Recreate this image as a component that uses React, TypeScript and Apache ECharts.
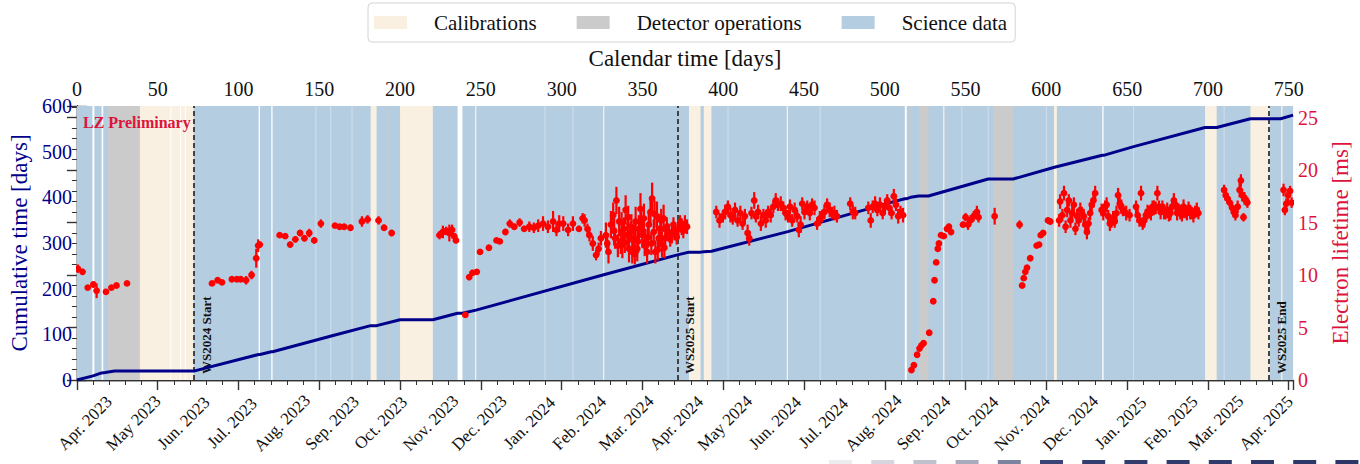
import React, { useEffect, useRef } from "react";
import * as echarts from "echarts";

const FONT = "'Liberation Serif', 'Times New Roman', serif";
const NAVY = "#00008b";
const CRIMSON = "#dc143c";
const SCI = "#b5cde1";
const CAL = "#f9f0e1";
const OPS = "#cbcbcb";
const DAY_MAX = 752.7;

// Month ticks on the bottom axis (days since start of calendar)
const monthDays = [5, 35, 66, 96, 127, 158, 188, 219, 249, 280, 311, 340, 371, 401, 432, 462, 493, 524, 554, 585, 615, 646, 677, 705, 736];
const monthLabels = ["Apr. 2023", "May 2023", "Jun. 2023", "Jul. 2023", "Aug. 2023", "Sep. 2023", "Oct. 2023", "Nov. 2023", "Dec. 2023", "Jan. 2024", "Feb. 2024", "Mar. 2024", "Apr. 2024", "May 2024", "Jun. 2024", "Jul. 2024", "Aug. 2024", "Sep. 2024", "Oct. 2024", "Nov. 2024", "Dec. 2024", "Jan. 2025", "Feb. 2025", "Mar. 2025", "Apr. 2025"];

// Background periods [start day, end day]
const scienceBands = [[0, DAY_MAX]];
const calibrationBands = [[38.8, 72.3], [181.8, 185.5], [200, 220.3], [246.4, 247.2], [325.6, 326.4], [378.8, 386], [388, 392.7], [439.3, 440.1], [536.1, 536.9], [604.7, 606.5], [698.2, 705.4], [726.3, 738.3], [745.3, 746.1]];
const operationsBands = [[19.4, 38.8], [192.8, 193.4], [515.8, 516.4], [521, 527], [567, 579.4]];
const gapLines = [[9.6, 10.8], [15.3, 16.3], [57.8, 58.4], [63.8, 64.4], [66.8, 67.4], [112.5, 113.3], [120.3, 121.1], [235.6, 238.6], [512.4, 513.6], [634.6, 635.4]];
const faintLines = [[147.6, 148.2], [156.8, 157.4], [170, 170.6], [289.4, 290], [306.7, 307.3], [402.7, 403.3], [459.7, 460.3], [547.4, 548], [563.7, 564.3], [599.7, 600.3], [653.7, 654.3], [709.7, 710.3]];

// Cumulative science time [days]
const cumulativeDays = [0, 10, 15.3, 17.5, 23.4, 72.3, 112.5, 113.3, 120.3, 121.1, 158, 181.8, 185.5, 200, 220.3, 235.6, 238.6, 247, 325.5, 371.7, 378.8, 386, 388, 392.7, 440, 505, 512.4, 513.6, 516, 521, 527, 564, 567, 579.4, 605, 634.6, 635.4, 654, 698.2, 705.4, 726.3, 739.5, 745, 752.7];
const cumulativeValues = [0, 9, 15.5, 16.5, 19.5, 19.5, 56, 56, 62, 62, 97, 119, 119, 132, 132, 146, 146, 153, 230, 274, 280, 280, 281, 282, 325, 390, 397, 397, 400, 403, 403, 440, 440, 440, 466, 492, 492, 511, 553, 553, 572, 572, 572, 580];

// Electron lifetime [day, ms, error]
const lifetimePre = [[0.6, 10.6, 0.4], [3.5, 10.3, 0.3], [6.7, 8.8, 0.2], [10.2, 9.1, 0.3], [12.2, 8.5, 0.7], [18.0, 8.4, 0.2], [21.4, 8.8, 0.2], [24.5, 9.0, 0.2], [31.0, 9.2, 0.2]];
const lifetimeSummer2023 = [[83.6, 9.2, 0.2], [87.1, 9.5, 0.2], [89.8, 9.3, 0.2], [95.9, 9.6, 0.2], [99.0, 9.6, 0.2], [101.4, 9.6, 0.2], [104.7, 9.5, 0.4], [108.1, 10.0, 0.4], [111.0, 11.6, 0.9], [112.2, 12.8, 0.6], [113.2, 12.9, 0.3], [125.5, 13.8, 0.2], [128.9, 13.7, 0.2], [132.0, 12.9, 0.3], [135.2, 13.4, 0.3], [138.1, 14.0, 0.3], [140.8, 13.5, 0.3], [143.8, 14.0, 0.4], [146.9, 13.3, 0.3], [151.0, 14.9, 0.4], [159.7, 14.7, 0.2], [162.6, 14.6, 0.2], [165.4, 14.6, 0.2], [169.3, 14.5, 0.3], [176.4, 15.1, 0.5], [179.9, 15.3, 0.4], [186.7, 15.2, 0.4], [190.1, 14.5, 0.3], [194.8, 14.0, 0.3]];
const lifetimeWinter2023 = [[224.4, 13.8, 0.4], [226.5, 14.1, 0.6], [228.5, 14.2, 0.4], [230.5, 14.0, 0.8], [232.2, 14.3, 0.5], [233.5, 13.7, 0.3], [234.6, 13.3, 0.3], [240.4, 6.2, 0.2], [242.8, 9.8, 0.3], [244.8, 10.2, 0.3], [247.5, 10.3, 0.2], [249.5, 12.2, 0.2], [255.0, 12.6, 0.2], [259.7, 13.3, 0.2], [261.7, 13.2, 0.2], [265.2, 14.1, 0.3], [267.9, 14.9, 0.4], [270.7, 14.6, 0.3], [274.0, 15.0, 0.4], [276.8, 14.4, 0.3], [280.0, 14.6, 0.5], [282.8, 14.5, 0.5], [285.5, 14.7, 0.6], [288.5, 14.9, 0.7], [291.5, 14.6, 0.6], [294.7, 15.1, 1.0], [296.8, 14.3, 0.6], [298.5, 14.9, 0.8], [301.0, 14.9, 0.7], [304.0, 14.3, 0.6], [307.0, 14.9, 0.7], [310.7, 14.4, 0.3], [313.0, 15.4, 0.5], [314.2, 15.2, 0.6], [316.0, 14.4, 0.5], [317.2, 13.8, 0.6], [319.3, 13.0, 0.7], [321.3, 11.9, 0.5], [322.9, 12.5, 0.6], [324.3, 13.5, 0.7]];
const lifetimeSpring2024 = [[327.4, 13.8, 1.2], [328.2, 13.0, 1.0], [329.0, 12.2, 1.1], [330.5, 14.8, 1.3], [331.9, 15.7, 1.2], [332.5, 14.2, 1.4], [333.1, 13.5, 1.0], [333.9, 17.1, 1.3], [334.8, 12.8, 1.1], [335.6, 15.1, 1.4], [336.6, 13.2, 1.2], [337.1, 15.0, 1.0], [337.6, 12.9, 1.3], [338.6, 14.4, 1.1], [339.1, 13.1, 1.0], [339.6, 16.2, 1.4], [340.7, 13.8, 1.2], [341.2, 15.5, 1.1], [341.7, 12.5, 1.3], [342.7, 14.1, 1.0], [343.2, 14.6, 1.2], [343.7, 12.2, 1.1], [344.8, 13.5, 1.3], [345.3, 12.0, 1.0], [345.8, 15.1, 1.4], [346.8, 12.5, 1.2], [347.3, 13.2, 1.1], [347.8, 14.4, 1.3], [348.8, 16.3, 1.5], [349.3, 15.0, 1.1], [349.9, 13.8, 1.2], [350.9, 15.4, 1.4], [351.4, 12.8, 1.0], [351.9, 13.2, 1.2], [352.9, 12.2, 1.1], [353.4, 13.6, 1.0], [353.9, 14.8, 1.3], [355.0, 16.0, 1.4], [355.5, 13.0, 1.1], [356.0, 17.3, 1.5], [357.0, 14.1, 1.2], [357.5, 15.8, 1.3], [358.0, 12.2, 1.1], [359.0, 15.6, 1.4], [359.5, 12.4, 1.0], [360.1, 13.5, 1.2], [361.1, 14.4, 1.3], [361.6, 15.2, 1.1], [362.1, 12.9, 1.2], [363.1, 15.4, 1.3], [363.6, 12.6, 1.0], [364.1, 13.5, 1.1], [365.1, 14.6, 0.9], [366.2, 14.1, 0.8], [367.2, 13.4, 0.7], [368.2, 13.8, 0.8], [369.2, 14.8, 0.7], [370.2, 14.1, 0.8], [371.2, 13.6, 0.7], [372.3, 14.4, 0.8], [373.3, 15.0, 0.7], [374.3, 14.6, 0.8], [375.3, 14.2, 0.7], [376.3, 14.9, 0.8], [377.6, 14.6, 0.7]];
const lifetimeSummer2024 = [[395.7, 16.0, 0.6], [397.7, 15.2, 0.7], [399.8, 15.6, 0.6], [401.2, 16.0, 0.7], [402.9, 16.5, 0.6], [404.5, 15.7, 0.7], [405.9, 15.4, 0.6], [407.3, 16.2, 0.7], [408.9, 15.2, 0.6], [410.6, 15.9, 0.7], [412.0, 14.9, 0.6], [413.4, 15.6, 0.7], [415.1, 14.0, 0.8], [416.1, 13.5, 0.7], [417.5, 15.9, 0.6], [419.2, 17.1, 0.8], [420.2, 15.6, 0.6], [421.6, 16.0, 0.7], [423.3, 14.9, 0.7], [424.9, 15.7, 0.6], [426.3, 15.2, 0.7], [427.8, 16.0, 0.6], [429.4, 15.7, 0.7], [431.0, 16.5, 0.6], [432.5, 17.1, 0.7], [433.9, 16.7, 0.6], [435.6, 16.8, 0.7], [437.2, 16.4, 0.6], [438.6, 15.9, 0.7], [440.1, 15.6, 0.6], [441.3, 16.5, 0.7], [442.7, 15.2, 0.6], [444.2, 16.2, 0.7], [445.8, 15.6, 0.6], [446.8, 14.3, 0.7], [447.9, 14.8, 0.8], [448.9, 16.8, 0.6], [450.3, 16.0, 0.7], [452.0, 16.5, 0.6], [453.6, 15.9, 0.7], [455.0, 16.7, 0.6], [456.5, 16.4, 0.7], [458.1, 14.9, 0.6], [459.8, 15.4, 0.7], [461.2, 15.6, 0.6], [462.6, 16.0, 0.7], [464.3, 16.7, 0.6], [465.9, 16.2, 0.7], [467.3, 15.9, 0.6], [468.8, 15.9, 0.7], [470.4, 15.6, 0.6], [478.6, 16.8, 0.6], [480.2, 16.0, 0.7], [481.7, 15.9, 0.6], [489.8, 16.4, 0.6], [491.3, 15.2, 0.7], [492.5, 16.5, 0.6], [494.0, 16.8, 0.7], [495.4, 16.2, 0.6], [497.0, 16.7, 0.7], [498.7, 15.9, 0.6], [500.1, 16.5, 0.7], [501.5, 17.1, 0.6], [502.8, 16.4, 0.7], [504.2, 15.9, 0.6], [505.6, 17.5, 0.7], [506.9, 16.7, 0.6], [508.3, 15.6, 0.7], [509.7, 16.0, 0.6], [511.3, 15.7, 0.7]];
const lifetimeAutumn2024 = [[516.5, 0.95, 0.1], [518.0, 1.4, 0.1], [520.0, 2.4, 0.1], [521.5, 3.0, 0.1], [522.7, 3.3, 0.1], [524.0, 3.5, 0.1], [527.5, 4.5, 0.1], [530.0, 7.5, 0.1], [530.8, 9.5, 0.1], [531.8, 11.2, 0.15], [532.8, 12.5, 0.2], [533.5, 13.0, 0.2], [534.8, 13.8, 0.2], [536.5, 13.7, 0.2], [538.5, 14.4, 0.3], [539.7, 14.6, 0.3], [541.0, 14.1, 0.3], [548.4, 14.8, 0.3], [550.0, 15.5, 0.4], [551.5, 14.8, 0.5], [553.0, 15.2, 0.5], [555.0, 15.6, 0.5], [557.0, 16.0, 0.6], [558.0, 15.5, 0.5], [568.0, 15.6, 0.8], [583.4, 14.8, 0.4], [585.0, 9.0, 0.1], [586.0, 9.7, 0.1], [587.0, 10.3, 0.1], [588.0, 10.7, 0.1], [590.0, 11.6, 0.1], [594.0, 12.8, 0.2], [595.5, 12.9, 0.2], [596.5, 13.8, 0.2], [598.0, 14.0, 0.2], [601.0, 15.2, 0.3], [602.4, 15.1, 0.3]];
const lifetimeWinter2024 = [[607.9, 15.2, 0.6], [608.5, 17.0, 0.7], [609.9, 15.7, 0.6], [610.9, 17.8, 0.7], [611.9, 14.6, 0.6], [612.9, 16.2, 0.7], [613.9, 17.1, 0.6], [614.9, 15.2, 0.7], [616.0, 15.9, 0.6], [617.0, 16.7, 0.7], [618.0, 14.4, 0.6], [619.0, 15.6, 0.7], [620.0, 15.2, 0.6], [621.0, 16.2, 0.7], [622.0, 15.9, 0.6], [623.1, 15.6, 0.7], [624.1, 14.8, 0.6], [625.1, 14.1, 0.7], [626.1, 14.9, 0.6], [627.1, 15.9, 0.7], [628.1, 16.7, 0.6], [629.1, 17.1, 0.7], [630.2, 17.8, 0.7], [634.2, 16.2, 0.6], [635.2, 15.9, 0.7], [636.3, 16.5, 0.6], [637.3, 16.7, 0.7], [638.3, 15.6, 0.6], [639.3, 14.9, 0.7], [640.3, 15.1, 0.6], [641.3, 15.4, 0.7], [642.3, 15.1, 0.6], [643.4, 15.9, 0.7], [644.4, 17.6, 0.7], [645.4, 16.8, 0.6], [646.4, 16.5, 0.7], [647.4, 16.2, 0.6], [649.4, 15.9, 0.7], [651.5, 15.7, 0.6], [655.5, 16.5, 0.6], [656.5, 15.7, 0.7], [657.6, 15.2, 0.6], [658.6, 17.8, 0.7], [659.6, 14.9, 0.6], [660.6, 15.2, 0.7], [661.6, 15.7, 0.6], [662.6, 16.0, 0.7], [663.6, 16.0, 0.6], [664.7, 15.9, 0.7], [665.7, 16.5, 0.6], [666.7, 16.4, 0.7], [667.7, 16.4, 0.6], [668.7, 17.8, 0.7], [669.7, 16.5, 0.6], [670.7, 16.0, 0.7], [671.8, 16.5, 0.6], [672.8, 16.0, 0.7], [673.8, 15.9, 0.6], [674.8, 16.2, 0.7], [675.8, 15.7, 0.6], [676.8, 15.9, 0.7], [677.8, 16.5, 0.6], [678.9, 17.1, 0.7], [679.9, 16.7, 0.6], [680.9, 15.9, 0.7], [681.9, 16.2, 0.6], [682.9, 16.0, 0.7], [683.9, 15.7, 0.6], [684.9, 16.5, 0.7], [686.0, 16.0, 0.6], [687.0, 15.9, 0.7], [688.0, 16.4, 0.6], [689.0, 16.0, 0.7], [690.0, 15.9, 0.6], [691.0, 15.7, 0.7], [692.0, 16.0, 0.6], [693.1, 16.2, 0.7], [694.1, 15.9, 0.6]];
const lifetimeSpring2025 = [[710.0, 18.1, 0.5], [711.0, 17.6, 0.5], [712.0, 17.3, 0.5], [713.5, 16.9, 0.5], [715.0, 16.4, 0.5], [716.0, 16.0, 0.5], [717.0, 15.7, 0.5], [718.4, 16.5, 0.6], [719.6, 18.1, 0.7], [720.4, 19.0, 0.6], [721.2, 17.6, 0.6], [722.0, 15.5, 0.4], [722.6, 17.3, 0.6], [723.6, 17.1, 0.5], [724.4, 16.9, 0.5], [746.8, 18.1, 0.6], [747.6, 16.2, 0.5], [748.5, 16.8, 0.5], [749.6, 17.6, 0.6], [750.8, 18.0, 0.5], [751.8, 16.9, 0.5]];

// Run boundaries
const runMarkers = [
  { day: 72.3, label: "WS2024 Start" },
  { day: 371.7, label: "WS2025 Start" },
  { day: 737.6, label: "WS2025 End" },
];

// decorative strip at the bottom edge of the image
const stripColors = ["#ececef", "#d6d7de", "#bfc1cc", "#a8abbb", "#7d84a0", "#3b4575", "#333e6e", "#313c6c", "#303b6b", "#2f3a6a", "#2e3969", "#2d3868", "#2c3767"];

const bandRender = (color: string) => (params: any, api: any) => {
  const p0 = api.coord([api.value(0), 600]);
  const p1 = api.coord([api.value(1), 0]);
  return {
    type: "rect",
    shape: { x: p0[0], y: p0[1], width: Math.max(p1[0] - p0[0], 0.8), height: p1[1] - p0[1] },
    style: { fill: color },
  };
};

const bandSeries = (name: string, bands: number[][], color: string, z: number) => ({
  name,
  type: "custom",
  xAxisIndex: 0,
  yAxisIndex: 0,
  z,
  silent: true,
  clip: true,
  itemStyle: { color },
  dimensions: ["start", "end"],
  encode: { x: [0, 1] },
  renderItem: bandRender(color),
  data: bands,
});

const lifetimeAll = [
  ...lifetimePre, ...lifetimeSummer2023, ...lifetimeWinter2023, ...lifetimeSpring2024,
  ...lifetimeSummer2024, ...lifetimeAutumn2024, ...lifetimeWinter2024, ...lifetimeSpring2025,
];

const axisLineStyle = { color: "#333", width: 1.4 };

export default function App() {
  const ref = useRef<HTMLDivElement>(null);
  useEffect(() => {
    if (!ref.current) return;
    const chart = echarts.init(ref.current, null, { renderer: "svg" });
    const labelMap: Record<number, string> = {};
    monthDays.forEach((d, i) => (labelMap[d] = monthLabels[i]));

    const option: any = {
      animation: false,
      backgroundColor: "#fff",
      textStyle: { fontFamily: FONT },
      grid: { left: 75, right: 52.3, top: 106, bottom: 84, containLabel: false },
      legend: {
        top: 3,
        left: 368,
        data: ["Calibrations", "Detector operations", "Science data"],
        icon: "rect",
        itemWidth: 33,
        itemHeight: 13,
        itemGap: 40,
        borderColor: "#d4d4d4",
        borderWidth: 1,
        borderRadius: 4,
        padding: [9, 8, 9, 6],
        selectedMode: false,
        textStyle: { fontSize: 21, fontFamily: FONT, color: "#111", padding: [0, 0, 0, 22] },
      },
      xAxis: [
        {
          type: "value",
          position: "top",
          min: 0,
          max: DAY_MAX,
          interval: 50,
          name: "Calendar time [days]",
          nameLocation: "middle",
          nameGap: 36,
          nameTextStyle: { fontSize: 23, fontFamily: FONT, color: "#111" },
          axisLine: { show: true, lineStyle: axisLineStyle },
          axisTick: { show: true, inside: true, length: 10, lineStyle: axisLineStyle },
          minorTick: { show: true, splitNumber: 5, length: 5, lineStyle: { color: "#333", width: 1 } },
          axisLabel: { fontSize: 20, fontFamily: FONT, color: "#111", margin: 7, showMaxLabel: false },
          splitLine: { show: false },
        },
        {
          type: "value",
          position: "bottom",
          min: 0,
          max: DAY_MAX,
          axisLine: { show: true, lineStyle: axisLineStyle },
          axisTick: { show: true, inside: true, length: 9, customValues: monthDays, lineStyle: axisLineStyle },
          axisLabel: {
            customValues: monthDays,
            rotate: 45,
            align: "center",
            verticalAlign: "middle",
            margin: 43,
            fontSize: 17,
            fontFamily: FONT,
            color: "#111",
            formatter: (v: number) => labelMap[v] ?? "",
          },
          splitLine: { show: false },
        },
      ],
      yAxis: [
        {
          type: "value",
          position: "left",
          min: 0,
          max: 600,
          interval: 100,
          name: "Cumulative time [days]",
          nameLocation: "middle",
          nameRotate: 90,
          nameGap: 38,
          nameTextStyle: { fontSize: 23, fontFamily: FONT, color: NAVY },
          axisLine: { show: true, lineStyle: axisLineStyle },
          axisTick: { show: true, inside: true, length: 10, lineStyle: axisLineStyle },
          minorTick: { show: true, splitNumber: 5, length: 5, lineStyle: { color: "#333", width: 1 } },
          axisLabel: { fontSize: 20, fontFamily: FONT, color: NAVY, margin: 5 },
          splitLine: { show: false },
        },
        {
          type: "value",
          position: "right",
          min: 0,
          max: 26.1,
          interval: 5,
          name: "Electron lifetime [ms]",
          nameLocation: "middle",
          nameRotate: 90,
          nameGap: 28,
          nameTextStyle: { fontSize: 23, fontFamily: FONT, color: CRIMSON },
          axisLine: { show: true, lineStyle: axisLineStyle },
          axisTick: { show: true, inside: true, length: 10, lineStyle: axisLineStyle },
          minorTick: { show: true, splitNumber: 5, length: 5, lineStyle: { color: "#333", width: 1 } },
          axisLabel: { fontSize: 20, fontFamily: FONT, color: CRIMSON, margin: 5, showMaxLabel: false },
          splitLine: { show: false },
        },
      ],
      series: [
        bandSeries("Science data", scienceBands, SCI, 1),
        bandSeries("Calibrations", calibrationBands, CAL, 2),
        bandSeries("Detector operations", operationsBands, OPS, 2),
        bandSeries("gaps", gapLines, "#ffffff", 3),
        bandSeries("faint", faintLines, "#d2e0ec", 3),
        {
          name: "Cumulative time",
          type: "line",
          xAxisIndex: 0,
          yAxisIndex: 0,
          z: 5,
          showSymbol: false,
          silent: true,
          lineStyle: { color: NAVY, width: 3 },
          data: cumulativeDays.map((d, i) => [d, cumulativeValues[i]]),
          markLine: {
            silent: true,
            symbol: "none",
            lineStyle: { type: [5, 3], color: "#333", width: 1.8 },
            label: {
              show: true,
              position: "insideStartBottom",
              distance: 6,
              fontSize: 13,
              fontWeight: "bold",
              fontFamily: FONT,
              color: "#111",
            },
            data: runMarkers.map((m) => ({ xAxis: m.day, label: { formatter: m.label } })),
          },
        },
        {
          name: "Electron lifetime",
          type: "custom",
          xAxisIndex: 0,
          yAxisIndex: 1,
          z: 6,
          silent: true,
          clip: true,
          dimensions: ["day", "lifetime", "err"],
          encode: { x: 0, y: 1 },
          renderItem: (params: any, api: any) => {
            const d = api.value(0);
            const v = api.value(1);
            const e = api.value(2);
            const c = api.coord([d, v]);
            const hi = api.coord([d, v + e]);
            const lo = api.coord([d, v - e]);
            return {
              type: "group",
              children: [
                { type: "line", shape: { x1: c[0], y1: hi[1], x2: c[0], y2: lo[1] }, style: { stroke: "#ff0000", lineWidth: 2.2 } },
                { type: "circle", shape: { cx: c[0], cy: c[1], r: 3.4 }, style: { fill: "#ff0000" } },
              ],
            };
          },
          data: lifetimeAll,
        },
      ],
      graphic: [
        {
          type: "text",
          left: 83,
          top: 114,
          z: 10,
          style: { text: "LZ Preliminary", fontSize: 16, fontWeight: "bold", fontFamily: FONT, fill: CRIMSON },
        },
        ...stripColors.map((c, i) => ({
          type: "rect",
          left: 829 + i * 42.2,
          top: 460,
          z: 10,
          shape: { width: 23, height: 4 },
          style: { fill: c },
        })),
      ],
    };
    chart.setOption(option);
    return () => chart.dispose();
  }, []);
  return <div ref={ref} style={{ position: "fixed", left: 0, top: 0, width: 1360, height: 464, background: "#fff" }} />;
}
